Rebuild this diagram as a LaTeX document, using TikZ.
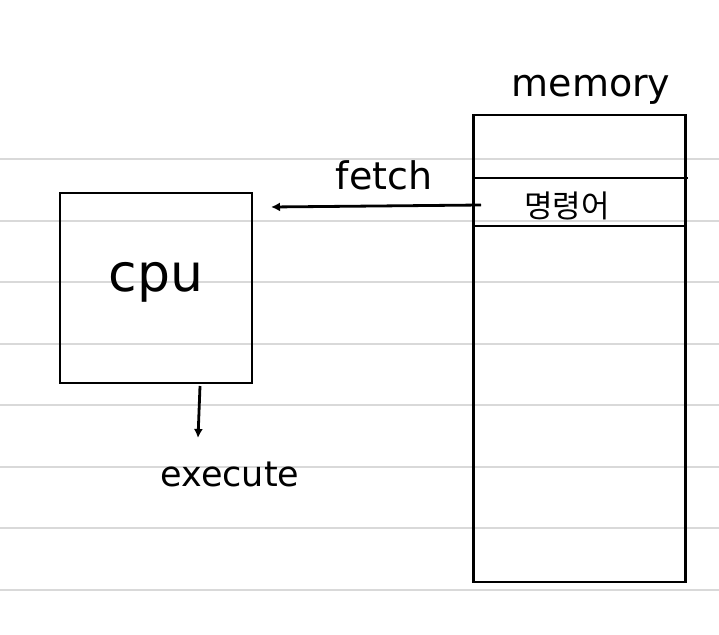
\documentclass[tikz,border=0pt]{standalone}
\usepackage{fontspec}
\setmainfont{DejaVu Sans}
\newfontfamily\krfont{Noto Sans CJK KR}
\usepackage{tikz}
\usetikzlibrary{calc, arrows.meta, positioning}

\begin{document}
\begin{tikzpicture}[x=1pt, y=-1pt, >={Latex[length=9pt, width=9pt]}, line width=2.8pt]
	\tikzstyle{box} = [draw=black, rectangle, inner sep=0pt]
	\tikzstyle{invis} = [draw=none, inner sep=0pt]
	\tikzstyle{ruled} = [draw=black!15, line width=2pt]

	\useasboundingbox (0,0) rectangle (719,634);

	% lined paper
	\foreach \y in {159, 220.5, 282, 343.5, 405, 466.5, 528, 589.5}
		\draw[ruled] (0,\y) -- (719,\y);

	\node[box, minimum width=192pt, minimum height=190pt]	at (156, 288)	(cpu)	{};
	\node[box, minimum width=212pt, minimum height=467pt]	at (579.5, 348.5)	(mem)	{};
	\node[invis]	at (156, 282)	(cpulbl)	{\fontsize{52}{56}\selectfont cpu};
	\node[invis]	at (591, 90)	(memlbl)	{\fontsize{38}{42}\selectfont memory};
	\node[invis]	at (384, 175)	(fetch)	{\fontsize{38}{42}\selectfont fetch};
	\node[invis]	at (567, 206)	(instr)	{\krfont\fontsize{31}{33}\selectfont 명령어};
	\node[invis]	at (230, 474)	(exec)	{\fontsize{35}{38}\selectfont execute};

	\coordinate (s1a) at (mem.west |- 0,178);
	\coordinate (s1b) at (688, 178);
	\coordinate (s2a) at (mem.west |- 0,226);
	\coordinate (s2b) at (mem.east |- 0,226);
	\coordinate (src) at (481, 205);
	\coordinate (dst) at (271, 207);
	\coordinate (top) at (200, 386);
	\coordinate (bot) at (198, 438);

	\draw (s1a) -- (s1b);
	\draw (s2a) -- (s2b);

	\path[->]
	(src)	edge	node	{}	(dst)
	(top)	edge	node	{}	(bot);
\end{tikzpicture}
\end{document}
